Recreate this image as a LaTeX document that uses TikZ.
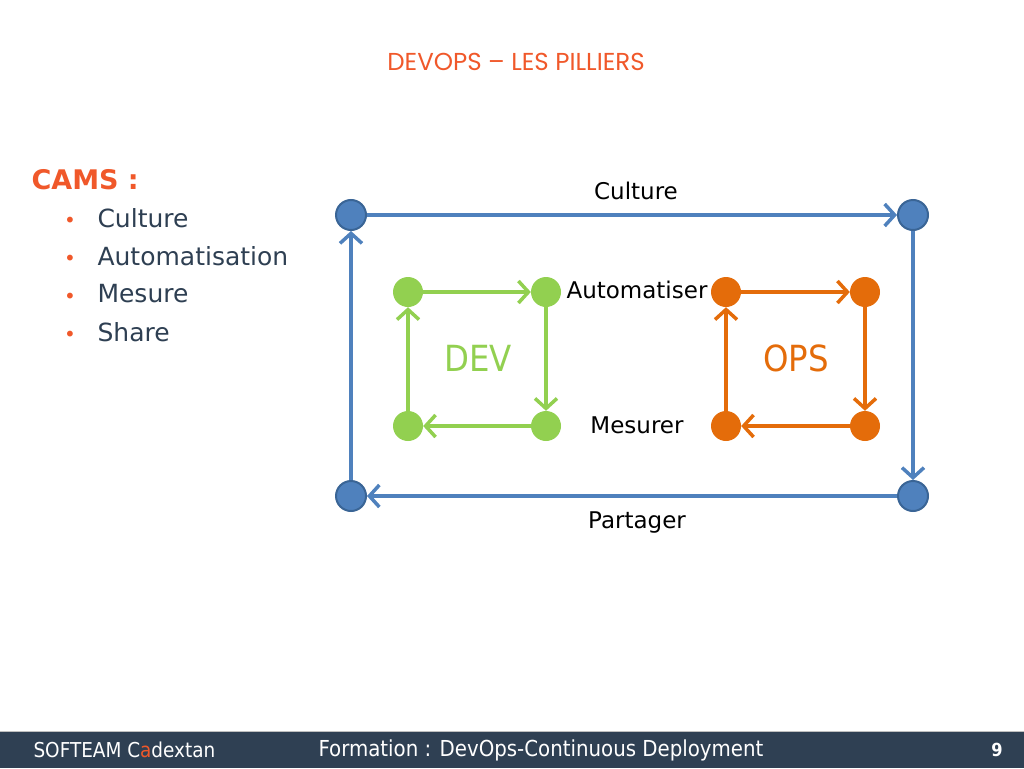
\documentclass[tikz,border=0pt]{standalone}
\usepackage{fontspec}
\setmainfont{DejaVu Sans}
\newfontfamily\condfont{DejaVu Sans Condensed}
\newfontfamily\titlefont{Poppins}
\usetikzlibrary{arrows.meta}

\definecolor{cblue}{HTML}{4F81BD}
\definecolor{cbluedark}{HTML}{3A6596}
\definecolor{cgreen}{HTML}{92D050}
\definecolor{corange}{HTML}{E46C0A}
\definecolor{cred}{HTML}{F0582A}
\definecolor{cslate}{HTML}{2E3F52}
\definecolor{footbg}{HTML}{2F4053}

\begin{document}
\begin{tikzpicture}[x=1pt,y=-1pt,
  dot/.style={circle,minimum size=30pt,inner sep=0pt},
  bluedot/.style={dot,fill=cblue,draw=cbluedark,line width=2pt},
  greendot/.style={dot,fill=cgreen},
  orangedot/.style={dot,fill=corange},
  flow/.style={line width=3.5pt,-{Straight Barb[length=10pt,width=22pt,line width=3.5pt]}},
  label/.style={font=\fontsize{23}{26}\selectfont,text=black},
  bullet/.style={anchor=west,font=\fontsize{25}{28}\selectfont,text=cslate}]

\useasboundingbox (0,0) rectangle (1024,768);

% Title
\node[text=cred,font=\titlefont\fontsize{24.5}{28}\selectfont] (title) at (516,62) {DEVOPS – LES PILLIERS};

% CAMS list
\node[anchor=west,text=cred,font=\bfseries\fontsize{27}{30}\selectfont] (cams) at (28,180) {CAMS :};
\foreach \txt [count=\i] in {Culture,Automatisation,Mesure,Share}{
  \node[text=cred,font=\fontsize{20}{22}\selectfont] (dot\i) at (70,184+38*\i) {•};
  \node[bullet] (item\i) at (94,180+38*\i) {\txt};
}

% Draw the outer loop
\node[bluedot] (b1) at (351,215) {};
\node[bluedot] (b2) at (913,215) {};
\node[bluedot] (b3) at (913,496) {};
\node[bluedot] (b4) at (351,496) {};
\draw[flow,draw=cblue] (b1) -- (b2);
\draw[flow,draw=cblue] (b2) -- (b3);
\draw[flow,draw=cblue] (b3) -- (b4);
\draw[flow,draw=cblue] (b4) -- (b1);

% Draw the DEV loop
\node[greendot] (g1) at (408,292) {};
\node[greendot] (g2) at (546,292) {};
\node[greendot] (g3) at (546,426) {};
\node[greendot] (g4) at (408,426) {};
\draw[flow,draw=cgreen] (g1) -- (g2);
\draw[flow,draw=cgreen] (g2) -- (g3);
\draw[flow,draw=cgreen] (g3) -- (g4);
\draw[flow,draw=cgreen] (g4) -- (g1);
\node[text=cgreen,font=\condfont\fontsize{36}{40}\selectfont] (dev) at (478,358) {DEV};

% Draw the OPS loop
\node[orangedot] (o1) at (726,292) {};
\node[orangedot] (o2) at (865,292) {};
\node[orangedot] (o3) at (865,426) {};
\node[orangedot] (o4) at (726,426) {};
\draw[flow,draw=corange] (o1) -- (o2);
\draw[flow,draw=corange] (o2) -- (o3);
\draw[flow,draw=corange] (o3) -- (o4);
\draw[flow,draw=corange] (o4) -- (o1);
\node[text=corange,font=\condfont\fontsize{36}{40}\selectfont] (ops) at (796,358) {OPS};

% Labels
\node[label] (culture) at (636,191) {Culture};
\node[label] (auto) at (637,290) {Automatiser};
\node[label] (mesure) at (637,425) {Mesurer};
\node[label] (partage) at (637,523) {Partager};

% Footer
\fill[footbg] (0,731) rectangle (1024,768);
\draw[gray!50,line width=1pt] (0,731) -- (1024,731);
\node[anchor=west,text=white,font=\condfont\fontsize{20.5}{24}\selectfont] (brand) at (30,750) {SOFTEAM C\textcolor{cred}{a}dextan};
\node[anchor=west,text=white,font=\condfont\fontsize{22}{26}\selectfont] (course) at (315,750) {Formation : DevOps-Continuous Deployment};
\node[text=white,font=\condfont\bfseries\fontsize{18}{20}\selectfont] (page) at (997,750) {9};

\end{tikzpicture}
\end{document}
